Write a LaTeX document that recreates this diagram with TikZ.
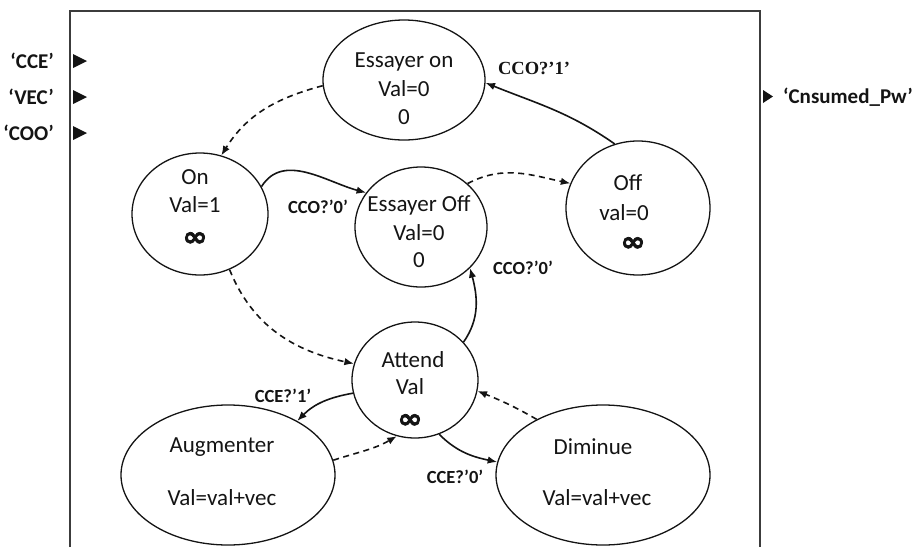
\documentclass[tikz,border=0pt]{standalone}
\usepackage{fontspec}
\setmainfont{Carlito}
\newfontfamily\labserif{Liberation Serif}
\newfontfamily\inffont[FakeBold=2.5]{DejaVu Sans}
\usetikzlibrary{shapes.geometric,arrows.meta}
\definecolor{ink}{HTML}{141414}
\definecolor{framegray}{HTML}{3C3C3C}
\begin{document}
\begin{tikzpicture}[x=1pt,y=-1pt,
  state/.style={draw=ink, ellipse, line width=1.3pt, inner sep=0pt},
  txt/.style={font=\fontsize{23}{27}\selectfont, text=ink, inner sep=0pt},
  inf/.style={font=\inffont\bfseries\fontsize{27}{29}\selectfont, text=ink, inner sep=0pt, xscale=1.1},
  lab/.style={font=\bfseries\fontsize{18.5}{22}\selectfont, text=ink, inner sep=0pt},
  labs/.style={font=\labserif\bfseries\fontsize{18.5}{22}\selectfont, text=ink, inner sep=0pt},
  port/.style={font=\bfseries\fontsize{21}{25}\selectfont, text=ink, inner sep=0pt},
  trans/.style={draw=ink, line width=1.6pt, -{Latex[length=9.5pt,width=7.5pt]}},
  internal/.style={trans, dash pattern=on 6pt off 4.5pt},
]
\useasboundingbox (0,0) rectangle (919,547);

% block frame (open at the bottom)
\draw[framegray, line width=2.2pt] (70,547) -- (70,11) -- (760,11) -- (760,547);

% input ports
\foreach \y/\n in {61/CCE,97/VEC,133/COO}{
  \fill[ink] (73,\y-7) -- (87,\y) -- (73,\y+7) -- cycle;
  \node[port, anchor=east] (in\n) at (54,\y) {‘\n’};
}
% output port
\fill[ink] (763,90) -- (773,96.5) -- (763,103) -- cycle;
\node[port, anchor=west] (outPw) at (783,97) {‘Cnsumed\_Pw’};

% states
\node[state, minimum width=162pt, minimum height=120pt] (eon)  at (404,80)  {};
\node[state, minimum width=136pt, minimum height=122pt] (on)   at (200,214) {};
\node[state, minimum width=132pt, minimum height=120pt] (eoff) at (421,227) {};
\node[state, minimum width=144pt, minimum height=134pt] (off)  at (638,208) {};
\node[state, minimum width=126pt, minimum height=116pt] (att)  at (415,380) {};
\node[state, minimum width=214pt, minimum height=140pt] (aug)  at (228,475) {};
\node[state, minimum width=214pt, minimum height=140pt] (dim)  at (603,475) {};

% state contents
\node[txt] (eon1) at (404,62)  {Essayer on};
\node[txt] (eon2) at (404,89)  {Val=0};
\node[txt] (eon3) at (404,117) {0};

\node[txt] (on1) at (195,177) {On};
\node[txt] (on2) at (195,205) {Val=1};
\node[inf] (on3) at (195,239) {∞};

\node[txt] (eoff1) at (419,205) {Essayer Off};
\node[txt] (eoff2) at (419,233) {Val=0};
\node[txt] (eoff3) at (419,260) {0};

\node[txt] (off1) at (628,183) {Off};
\node[txt] (off2) at (624,213) {val=0};
\node[inf] (off3) at (633,244) {∞};

\node[txt] (att1) at (413,360) {Attend};
\node[txt] (att2) at (410,387) {Val};
\node[inf] (att3) at (410,421) {∞};

\node[txt] (aug1) at (222,447) {Augmenter};
\node[txt] (aug2) at (222,498) {Val=val+vec};

\node[txt] (dim1) at (593,447) {Diminue};
\node[txt] (dim2) at (597,498) {Val=val+vec};

% transitions
\draw[internal] (eon.184) to[out=195, in=58] (on.70);
\draw[trans] (on.24) to[out=58, in=165] (eoff.148);
\draw[internal] (eoff.43) to[out=28, in=168] (off.160);
\draw[trans] (off.110) to[out=145, in=-22] (eon.-2);
\draw[internal] (on.-62) to[out=-68, in=168] (att.165);
\draw[trans] (att.38) to[out=55, in=-75] (eoff.-40);
\draw[trans] (att.192) to[out=190, in=45] (aug.38);
\draw[internal] (aug.8) to[out=18, in=-150] (att.-108);
\draw[trans] (att.-66) to[out=-45, in=168] (dim.173);
\draw[internal] (dim.140) to[out=150, in=-22] (att.-10);

% transition guards
\node[lab]  (g1) at (318,207) {CCO?’0’};
\node[labs] (g2) at (534,68)  {CCO?’1’};
\node[lab]  (g3) at (523,268) {CCO?’0’};
\node[lab]  (g4) at (283,396) {CCE?’1’};
\node[lab]  (g5) at (455,477) {CCE?’0’};
\end{tikzpicture}
\end{document}
